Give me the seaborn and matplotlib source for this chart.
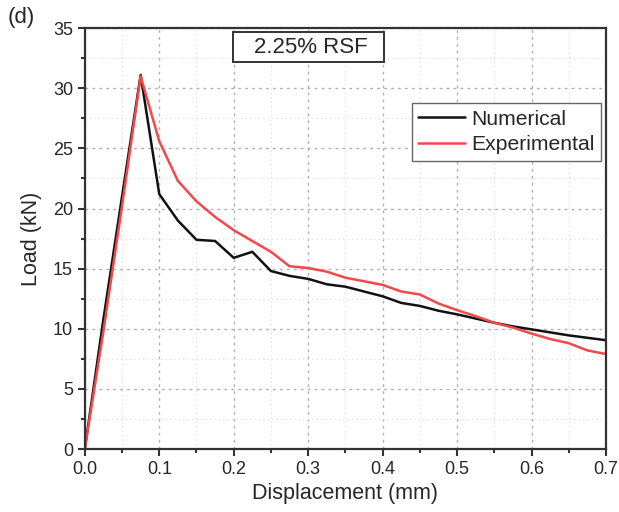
import numpy as np
import pandas as pd
import matplotlib
matplotlib.use('Agg')
import matplotlib.pyplot as plt
from matplotlib.ticker import MultipleLocator
from matplotlib.patches import Rectangle
import seaborn as sns

sns.set_style("ticks")
plt.rcParams['font.family'] = ['Liberation Sans', 'DejaVu Sans']

# displacement (mm) and load (kN)
disp = [0.0, 0.025, 0.05, 0.075, 0.1, 0.125, 0.15, 0.175, 0.2, 0.225, 0.25,
        0.275, 0.3, 0.325, 0.35, 0.375, 0.4, 0.425, 0.45, 0.475, 0.5, 0.525,
        0.55, 0.575, 0.6, 0.625, 0.65, 0.675, 0.7]
load_num = [0.0, 10.8, 21.0, 31.1, 21.2, 19.0, 17.4, 17.3, 15.9, 16.4, 14.8,
            14.4, 14.15, 13.7, 13.5, 13.1, 12.7, 12.15, 11.9, 11.5, 11.2, 10.85,
            10.5, 10.2, 9.95, 9.7, 9.45, 9.25, 9.05]
load_exp = [0.0, 9.8, 20.2, 31.0, 25.6, 22.3, 20.6, 19.3, 18.2, 17.3, 16.4,
            15.2, 15.05, 14.75, 14.25, 13.95, 13.65, 13.1, 12.85, 12.1, 11.55, 11.05,
            10.5, 10.1, 9.6, 9.15, 8.8, 8.2, 7.9]
series_names = ['Numerical', 'Experimental']
series_colors = ['#111111', '#f0484b']

df = pd.DataFrame({
    'disp': disp * 2,
    'load': load_num + load_exp,
    'series': [series_names[0]] * len(disp) + [series_names[1]] * len(disp),
})

fig = plt.figure(figsize=(6.19, 5.12), dpi=100)
ax = fig.add_axes([0.137, 0.123, 0.842, 0.822])

ax.xaxis.set_major_locator(MultipleLocator(0.1))
ax.xaxis.set_minor_locator(MultipleLocator(0.05))
ax.yaxis.set_major_locator(MultipleLocator(5))
ax.yaxis.set_minor_locator(MultipleLocator(2.5))
ax.grid(which='major', color='#b0b0b0', linestyle=(0, (2, 3)), linewidth=1.0)
ax.grid(which='minor', color='#d8d8d8', linestyle=(0, (1, 3)), linewidth=0.8)
ax.set_axisbelow(True)

sns.lineplot(data=df, x='disp', y='load', hue='series', palette=series_colors,
             linewidth=1.8, ax=ax, sort=False, estimator=None)

ax.set_xlim(0, 0.7)
ax.set_ylim(0, 35)
ax.set_xticks(np.arange(0, 0.71, 0.1))
ax.set_xticklabels([f'{v:.1f}' for v in np.arange(0, 0.71, 0.1)])
ax.set_xlabel('Displacement (mm)', fontsize=15.5, labelpad=4)
ax.set_ylabel('Load (kN)', fontsize=15.5, labelpad=8)
ax.tick_params(which='major', direction='out', length=5, width=1.5, labelsize=13, color='#333333')
ax.tick_params(which='minor', direction='out', length=3, width=1.5, color='#333333')
for s in ax.spines.values():
    s.set_linewidth(1.6)
    s.set_color('#333333')

leg = ax.legend(loc='upper right', bbox_to_anchor=(0.990, 0.8215), fontsize=15.2,
                frameon=True, fancybox=False, edgecolor='#666666',
                handlelength=2.2, borderpad=0.3, labelspacing=0.32, handletextpad=0.3,
                borderaxespad=0)
leg.get_frame().set_linewidth(1.0)
leg.get_frame().set_alpha(1)

ax.add_patch(Rectangle((0.2835, 0.919), 0.2905, 0.073, transform=ax.transAxes,
                       fc='white', ec='#333333', lw=1.4, zorder=5))
ax.text(0.434, 0.955, '2.25% RSF', transform=ax.transAxes, ha='center', va='center',
        fontsize=16, zorder=6)
fig.text(0.012, 0.966, '(d)', fontsize=16, ha='left', va='center')

fig.savefig('out.png', dpi=100)
